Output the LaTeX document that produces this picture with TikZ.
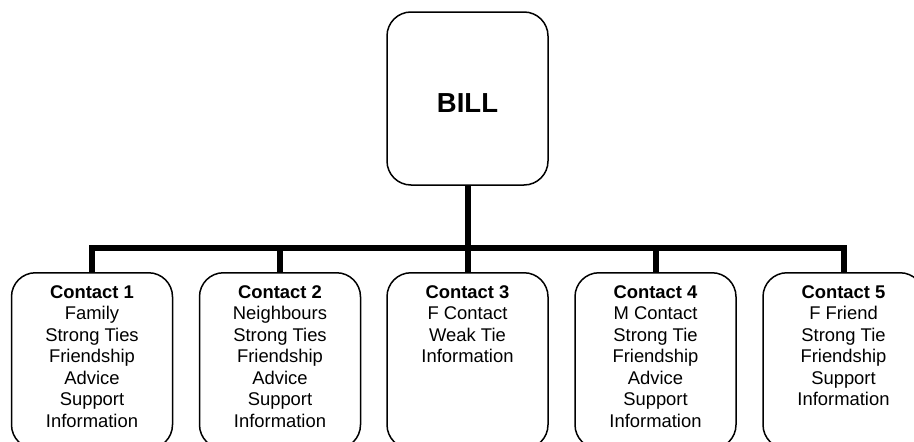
\documentclass[tikz,border=0pt]{standalone}
\usepackage{fontspec}
\setmainfont{Liberation Sans}
\begin{document}
\begin{tikzpicture}[x=1pt,y=-1pt,
  card/.style={draw=black, line width=1.5pt, rounded corners=24pt, fill=white,
    minimum width=161pt, inner sep=0pt},
  contactbox/.style={card, minimum height=176pt, anchor=north},
  cardtext/.style={inner sep=0pt, anchor=north, align=center,
    font=\fontsize{18.4}{21.5}\selectfont},
  link/.style={draw=black, line width=6pt, line join=miter}]
  \clip (0,0) rectangle (914,442);
  \useasboundingbox (0,0) rectangle (914,442);

  % top person
  \node[card, minimum height=173pt, text height=28.7pt,
        font=\fontsize{27.5}{30}\selectfont\bfseries] (bill) at (467.5,98.5) {BILL};

  % contacts
  \node[contactbox] (c1) at (92,272) {};
  \node[contactbox] (c2) at (280,272) {};
  \node[contactbox] (c3) at (467.5,272) {};
  \node[contactbox] (c4) at (655.5,272) {};
  \node[contactbox] (c5) at (843.5,272) {};

  \node[cardtext] (t1) at ([yshift=-13pt]c1.north) {\textbf{Contact 1}\\Family\\Strong Ties\\Friendship\\Advice\\Support\\Information};
  \node[cardtext] (t2) at ([yshift=-13pt]c2.north) {\textbf{Contact 2}\\Neighbours\\Strong Ties\\Friendship\\Advice\\Support\\Information};
  \node[cardtext] (t3) at ([yshift=-13pt]c3.north) {\textbf{Contact 3}\\F Contact\\Weak Tie\\Information};
  \node[cardtext] (t4) at ([yshift=-13pt]c4.north) {\textbf{Contact 4}\\M Contact\\Strong Tie\\Friendship\\Advice\\Support\\Information};
  \node[cardtext] (t5) at ([yshift=-13pt]c5.north) {\textbf{Contact 5}\\F Friend\\Strong Tie\\Friendship\\Support\\Information};

  % bus connecting everyone
  \coordinate (bus) at (467.5,247.5);
  \draw[link] (c1.north) -- (c1.north |- bus) -- (c5.north |- bus) -- (c5.north);
  \draw[link] (bill.south) -- (c3.north);
  \draw[link] (c2.north) -- (c2.north |- bus);
  \draw[link] (c4.north) -- (c4.north |- bus);
\end{tikzpicture}
\end{document}
